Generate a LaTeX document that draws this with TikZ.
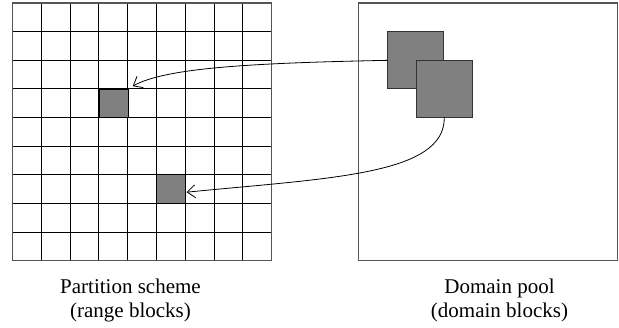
\documentclass[tikz,border=0pt]{standalone}
\usepackage{fontspec}
\setmainfont{Liberation Serif}
\usetikzlibrary{arrows.meta}
\definecolor{frame}{HTML}{555555}
\definecolor{blockfill}{HTML}{808080}
\definecolor{blockedge}{HTML}{333333}
\tikzset{
  cell/.style={draw=black, line width=0.8pt, fill=blockfill, minimum width=28.82pt, minimum height=28.63pt, inner sep=0pt, outer sep=0pt},
  dblock/.style={draw=blockedge, line width=1pt, fill=blockfill, minimum width=56pt, minimum height=56.7pt, inner sep=0pt, outer sep=0pt},
  pool/.style={draw=frame, line width=1.4pt, minimum width=259pt, minimum height=257.7pt, inner sep=0pt, outer sep=0pt},
  link/.style={draw=black, line width=0.8pt, -{Straight Barb[length=8pt,width=13pt]}},
  caption/.style={align=center, font=\fontsize{21}{24}\selectfont, inner sep=0pt}
}
\begin{document}
\begin{tikzpicture}[x=1pt,y=-1pt]
\useasboundingbox (0,0) rectangle (619,328);
% partition grid
\foreach \i in {1,...,8} {
  \draw[black, line width=0.8pt] ({12.3+\i*28.82},3) -- ({12.3+\i*28.82},260.7);
  \draw[black, line width=0.8pt] (12.3,{3+\i*28.63}) -- (271.7,{3+\i*28.63});
}
\node[cell] (r1) at (113.8,103.5) {};
\node[cell] (r2) at (171.2,189.2) {};
\node[pool, line width=1.6pt] (grid) at (142,131.85) {};
% domain pool
\node[pool] (pool) at (487.8,131.85) {};
\node[dblock] (d1) at (415.7,60.35) {};
\node[dblock] (d2) at (444.3,89) {};
% connectors
\draw[link] (d1.west) .. controls (250,63) and (165,68) .. ([xshift=4.5pt,yshift=3pt]r1.north east);
\draw[link] (d2.south) .. controls (445,175) and (330,178) .. ([xshift=1pt,yshift=-3pt]r2.east);
% captions
\node[caption, anchor=base] (cap1) at (130.5,318) {Partition scheme\\(range blocks)};
\node[caption, anchor=base] (cap2) at (499.5,318) {Domain pool\\(domain blocks)};
\end{tikzpicture}
\end{document}
